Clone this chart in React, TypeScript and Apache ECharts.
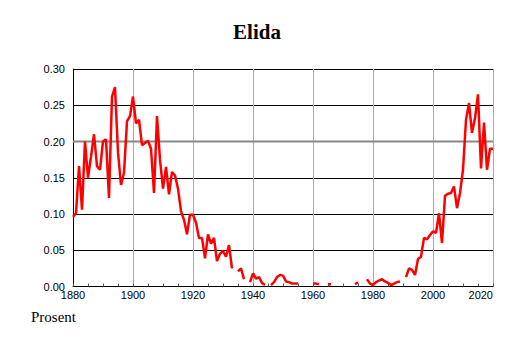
import React, { useEffect, useRef } from "react";
import * as echarts from "echarts";

const titleText = "Elida";
const unitText = "Prosent";

const years: number[] = [];
for (let y = 1880; y <= 2020; y++) years.push(y);

const shares: (number | null)[] = [
  // 1880-1889
  0.096, 0.101, 0.166, 0.106, 0.200, 0.150, 0.179, 0.210, 0.166, 0.161,
  // 1890-1899
  0.200, 0.203, 0.122, 0.262, 0.275, 0.185, 0.140, 0.157, 0.228, 0.235,
  // 1900-1909
  0.262, 0.225, 0.230, 0.195, 0.198, 0.201, 0.190, 0.129, 0.235, 0.175,
  // 1910-1919
  0.135, 0.165, 0.127, 0.158, 0.153, 0.135, 0.104, 0.092, 0.072, 0.099,
  // 1920-1929
  0.099, 0.088, 0.067, 0.067, 0.039, 0.072, 0.059, 0.067, 0.035, 0.045,
  // 1930-1939
  0.049, 0.041, 0.057, 0.025, null, 0.021, 0.025, 0.010, null, 0.006,
  // 1940-1949
  0.018, 0.011, 0.013, 0.005, 0.002, null, 0.002, 0.006, 0.013, 0.016,
  // 1950-1959
  0.015, 0.007, 0.006, 0.004, 0.004, 0.004, null, null, null, null,
  // 1960-1969
  0.004, 0.004, 0.003, null, null, 0.003, 0.003, null, null, null,
  // 1970-1979
  null, null, null, null, 0.003, 0.006, null, null, 0.010, 0.004,
  // 1980-1989
  0.002, 0.006, 0.008, 0.010, 0.007, 0.005, 0.002, 0.004, 0.006, 0.007,
  // 1990-1999
  null, 0.013, 0.025, 0.023, 0.016, 0.038, 0.041, 0.067, 0.065, 0.071,
  // 2000-2009
  0.076, 0.074, 0.101, 0.060, 0.125, 0.128, 0.129, 0.138, 0.108, 0.129,
  // 2010-2019
  0.161, 0.230, 0.253, 0.212, 0.232, 0.265, 0.163, 0.226, 0.161, 0.190,
  // 2020
  0.190,
];

const xMin = 1880;
const xMax = 2020;
const xStep = 20;
const yMin = 0;
const yMax = 0.3;
const yStep = 0.05;
const highlightLevel = 0.2;

export default function App() {
  const ref = useRef<HTMLDivElement>(null);
  useEffect(() => {
    if (!ref.current) return;
    const chart = echarts.init(ref.current, undefined, { renderer: "svg" });
    const lineData = years.map((y, i) => [y, shares[i]]);
    chart.setOption({
      animation: false,
      backgroundColor: "#ffffff",
      title: {
        text: titleText,
        left: "center",
        top: 16,
        textStyle: {
          fontFamily: "Liberation Serif",
          fontSize: 21,
          fontWeight: "bold",
          color: "#000",
        },
      },
      graphic: [
        {
          type: "text",
          left: 31,
          top: 309,
          style: {
            text: unitText,
            font: "15px 'Liberation Serif'",
            fill: "#000",
          },
        },
      ],
      grid: { left: 73, top: 69, width: 420, height: 217.5 },
      xAxis: {
        type: "value",
        min: xMin,
        max: xMax,
        interval: xStep,
        axisLine: { show: true, onZero: false, lineStyle: { color: "#000", width: 1 } },
        axisTick: { show: true, inside: true, length: 3, lineStyle: { color: "#555" } },
        minorTick: { show: true, splitNumber: 4, length: 3, lineStyle: { color: "#555" } },
        splitLine: { show: true, lineStyle: { color: "#aaaaaa", width: 1 } },
        axisLabel: {
          fontFamily: "Liberation Sans",
          fontSize: 11,
          color: "#000",
          margin: 3,
          alignMaxLabel: "right",
          formatter: (v: number) => String(v),
        },
      },
      yAxis: {
        type: "value",
        min: yMin,
        max: yMax,
        interval: yStep,
        axisLine: { show: true, lineStyle: { color: "#000", width: 1 } },
        axisTick: { show: false },
        splitLine: { show: true, lineStyle: { color: "#000", width: 1 } },
        axisLabel: {
          fontFamily: "Liberation Sans",
          fontSize: 11,
          color: "#000",
          margin: 8,
          formatter: (v: number) => v.toFixed(2),
        },
      },
      series: [
        {
          type: "line",
          z: 1,
          silent: true,
          showSymbol: false,
          data: [
            [xMin, highlightLevel],
            [xMax, highlightLevel],
          ],
          lineStyle: { color: "#888888", width: 2 },
        },
        {
          type: "line",
          z: 3,
          data: lineData,
          showSymbol: false,
          connectNulls: false,
          lineStyle: { color: "#ff0000", width: 2.5 },
          itemStyle: { color: "#ff0000" },
        },
      ],
    });
    return () => chart.dispose();
  }, []);
  return (
    <div
      ref={ref}
      style={{ position: "fixed", left: 0, top: 0, width: 514, height: 343 }}
    />
  );
}
